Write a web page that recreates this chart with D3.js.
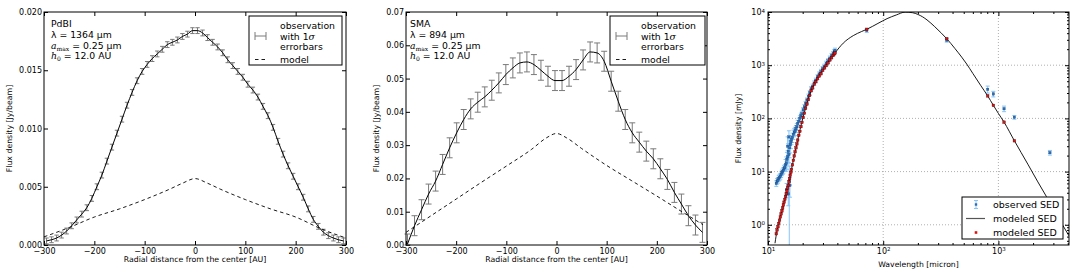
<!DOCTYPE html>
<html>
<head>
<meta charset="utf-8">
<script src="https://cdn.jsdelivr.net/npm/d3@7/dist/d3.min.js"></script>
<style>
  body { margin: 0; background: #fff; }
  text { font-family: "DejaVu Sans", sans-serif; fill: #000; }
</style>
</head>
<body>
<svg id="canvas" width="1080" height="272"></svg>
<script>
// PdBI profile
let pdbiRadius = d3.range(-295, 300, 10)
let pdbiFlux = [
  0.00035, 0.00045, 0.0006, 0.00085, 0.0012, 0.00165, 0.00215, 0.00265, 0.0032, 0.0040,
  0.0050, 0.0060, 0.0072, 0.0084, 0.0096, 0.0108, 0.0120, 0.0131, 0.0141, 0.0149,
  0.0155, 0.0160, 0.0164, 0.0168, 0.0172, 0.0174, 0.0176, 0.0179, 0.0181, 0.0184,
  0.0184, 0.0182, 0.0178, 0.0174, 0.0170, 0.0165, 0.0159, 0.0154, 0.0149, 0.0144,
  0.0138, 0.0133, 0.0127, 0.0119, 0.0111, 0.0101, 0.0089, 0.0078, 0.0068, 0.0059,
  0.0050, 0.0041, 0.0031, 0.0022, 0.0016, 0.0011, 0.0008, 0.0006, 0.00045, 0.00035
]
let pdbiSigma = 0.00025
let pdbiModelRadius = [-300, -250, -200, -150, -100, -50, -25, 0, 25, 50, 100, 150, 200, 250, 300]
let pdbiModelFlux = [0.0007, 0.0015, 0.0024, 0.0031, 0.0039, 0.0048, 0.0053, 0.0057, 0.0053, 0.0048, 0.0039, 0.0031, 0.0024, 0.0014, 0.0006]

// SMA profile
let smaRadius = [
  -297, -283, -269, -255, -241, -227, -213, -199, -185, -171, -157, -143, -129, -115, -101,
  -87, -73, -59, -45, -31, -17, -3, 11, 25, 39, 53, 67, 81, 95, 109,
  123, 137, 151, 165, 179, 193, 207, 221, 235, 249, 263, 277, 291
]
let smaFlux = [
  0.0003, 0.0058, 0.0106, 0.0153, 0.0192, 0.0242, 0.0292, 0.0337, 0.0377, 0.0409,
  0.0429, 0.0445, 0.0465, 0.0487, 0.0512, 0.0532, 0.0547, 0.0550, 0.0542, 0.0525,
  0.0507, 0.0494, 0.0494, 0.0507, 0.0527, 0.0556, 0.0580, 0.0577, 0.0552, 0.0492,
  0.0432, 0.0377, 0.0337, 0.0309, 0.0282, 0.0259, 0.0229, 0.0197, 0.0158, 0.0123,
  0.0088, 0.0060, 0.0038
]
let smaSigma = 0.003
let smaModelRadius = [-300, -250, -200, -150, -100, -50, -20, 0, 20, 50, 100, 150, 200, 250, 292]
let smaModelFlux = [0.0038, 0.0088, 0.0138, 0.0188, 0.0237, 0.0287, 0.0322, 0.0335, 0.0322, 0.0290, 0.0239, 0.0193, 0.0147, 0.0100, 0.0061]

// SED: IRS spectrum
let irsLambda = [
  11.8, 12.0, 12.2, 12.4, 12.6, 12.8, 13.0, 13.2, 13.4, 13.6, 13.8, 14.0,
  14.2, 14.4, 14.6, 14.8, 15.0, 15.2, 15.4, 15.6, 15.8, 16.0,
  16.3, 16.6, 16.9, 17.2, 17.5, 17.8, 18.1, 18.5, 18.9, 19.3, 19.7,
  20.2, 20.7, 21.2, 21.8, 22.4, 23.0, 23.7, 24.4, 25.2, 26.0, 26.9, 27.8, 28.8, 29.8, 30.9, 32.0, 33.2, 34.4, 35.6, 36.8, 37.6, 38.2
]
let irsObsFlux = [
  6.0, 6.6, 6.9, 7.5, 7.8, 8.2, 8.8, 9.5, 10.0, 10.6, 11.5, 12.0,
  13.5, 14.5, 17, 19, 24, 21, 28, 32, 36, 40,
  44, 50, 55, 58, 64, 70, 80, 88, 100, 112, 122,
  145, 165, 190, 220, 260, 300, 360, 400, 460, 520, 600, 680, 760, 860, 950, 1080, 1200, 1350, 1500, 1650, 1800, 1900
]
let irsObsErr = [
  0.12, 0.12, 0.12, 0.12, 0.12, 0.12, 0.12, 0.12, 0.12, 0.12, 0.12, 0.12,
  0.25, 0.3, 0.35, 0.3, 0.4, 0.3, 0.35, 0.3, 0.25, 0.2,
  0.2, 0.2, 0.18, 0.18, 0.15, 0.15, 0.15, 0.15, 0.12, 0.12, 0.12,
  0.1, 0.1, 0.1, 0.1, 0.1, 0.1, 0.1, 0.1, 0.1, 0.1, 0.1, 0.1, 0.1, 0.1, 0.1, 0.1, 0.1, 0.1, 0.1, 0.1, 0.1, 0.1
]
let irsModelFlux = [
  0.68, 0.8, 0.92, 1.06, 1.22, 1.40, 1.6, 1.82, 2.07, 2.35, 2.65, 3.0,
  3.4, 3.85, 4.3, 4.9, 5.5, 6.4, 7.4, 8.5, 9.7, 11,
  13.4, 16.3, 19.7, 23.6, 28, 33, 39, 48, 57, 70, 84,
  104, 125, 155, 185, 225, 270, 330, 375, 440, 490, 555, 620, 690, 800, 880, 980, 1100, 1250, 1380, 1520, 1620, 1700
]
let irsExtraLambda = [14.5, 14.8, 15.0, 15.2, 15.3, 15.5]
let irsExtraFlux = [4.6, 30, 3.8, 45, 6.5, 5.5]
let irsExtraErr = [0.3, 0.5, 0.4, 0.3, 0.95, 0.4]

// SED: photometry
let photLambda = [72, 356, 807, 904, 1120, 1376, 2800]
let photFlux = [4500, 2950, 352, 288, 152, 105, 22.7]
let photErr = [0.08, 0.08, 0.15, 0.12, 0.12, 0.08, 0.1]
let photModelLambda = [72, 356, 807, 904, 1120, 1376]
let photModelFlux = [4730, 3150, 265, 176, 85, 38]

// SED: model curve
let sedLambda = [11.5, 12, 13, 14, 15, 16, 17, 18, 19, 20, 21, 22, 23.5, 25, 27, 30, 34, 38, 45, 55,
  65, 72, 90, 108, 130, 155, 180, 200, 220, 240, 280, 320, 356, 420, 480, 531, 600, 700, 807, 904,
  1000, 1120, 1376, 1800, 2200, 2610, 3200, 4100]
let sedFlux = [0.45, 0.8, 1.6, 3.0, 5.5, 11, 21, 37, 62, 98, 145, 205, 320, 430, 580, 820, 1220, 1680, 2600, 3600,
  4300, 4730, 6100, 7500, 8800, 9950, 9700, 9000, 8100, 7100, 5300, 4000, 3150, 2050, 1420, 1050, 700, 420, 265, 176,
  124, 85, 38, 13.8, 6.4, 3.4, 1.55, 0.62]

let svg = d3.select('#canvas')
let plotTop = 12
let plotBottom = 245

let frameAxes = (g, x, y, xTicks, yTicks, fmtX, fmtY, size, padY) => {
  let [x0, x1] = x.range()
  g.append('g').attr('class', 'ax').attr('transform', `translate(0,${plotBottom})`)
    .call(d3.axisBottom(x).tickValues(xTicks).tickSizeInner(-size).tickSizeOuter(0).tickPadding(3).tickFormat(fmtX))
  g.append('g').attr('class', 'ax').attr('transform', `translate(0,${plotTop})`)
    .call(d3.axisTop(x).tickValues(xTicks).tickSizeInner(-size).tickSizeOuter(0).tickFormat(''))
  g.append('g').attr('class', 'ax').attr('transform', `translate(${x0},0)`)
    .call(d3.axisLeft(y).tickValues(yTicks).tickSizeInner(-size).tickSizeOuter(0).tickPadding(padY).tickFormat(fmtY))
  g.append('g').attr('class', 'ax').attr('transform', `translate(${x1},0)`)
    .call(d3.axisRight(y).tickValues(yTicks).tickSizeInner(-size).tickSizeOuter(0).tickFormat(''))
  g.selectAll('.domain').remove()
  g.selectAll('.ax').attr('font-size', 8).attr('font-family', null)
}

let drawProfile = (cfg) => {
  let x = d3.scaleLinear().domain([-300, 300]).range([cfg.left, cfg.right])
  let y = d3.scaleLinear().domain([0, cfg.yMax]).range([plotBottom, plotTop])
  let g = svg.append('g')

  frameAxes(g, x, y, d3.range(-300, 301, 100), cfg.yTicks, d3.format('d'), d3.format(cfg.yFmt), 4, 2)

  let pts = cfg.radius.map((r, i) => ({ r: r, v: cfg.flux[i] }))
  let bars = g.append('g').attr('stroke', '#7a7a7a').attr('stroke-width', 1)
  pts.forEach(p => {
    let yl = y(Math.max(p.v - cfg.sigma, 0)), yh = y(p.v + cfg.sigma), xc = x(p.r)
    bars.append('line').attr('x1', xc).attr('x2', xc).attr('y1', yl).attr('y2', yh)
    bars.append('line').attr('x1', xc - cfg.cap).attr('x2', xc + cfg.cap).attr('y1', yl).attr('y2', yl)
    bars.append('line').attr('x1', xc - cfg.cap).attr('x2', xc + cfg.cap).attr('y1', yh).attr('y2', yh)
  })

  let line = d3.line().x(d => x(d.r)).y(d => y(d.v)).curve(d3.curveMonotoneX)
  g.append('path').datum(pts).attr('d', line).attr('fill', 'none').attr('stroke', '#000').attr('stroke-width', 1)

  let model = cfg.modelRadius.map((r, i) => ({ r: r, v: cfg.modelFlux[i] }))
  g.append('path').datum(model).attr('d', line).attr('fill', 'none')
    .attr('stroke', '#000').attr('stroke-width', 0.9).attr('stroke-dasharray', '3.5,3')

  g.append('rect').attr('x', cfg.left).attr('y', plotTop).attr('width', cfg.right - cfg.left).attr('height', plotBottom - plotTop)
    .attr('fill', 'none').attr('stroke', '#000').attr('stroke-width', 1)

  // info text
  let tx = cfg.left + cfg.textDx
  g.append('text').attr('x', tx).attr('y', 27).attr('font-size', 9.3).text(cfg.name)
  g.append('text').attr('x', tx).attr('y', 37.5).attr('font-size', 9.3).text('λ = ' + cfg.lambda + ' µm')
  let a = g.append('text').attr('x', tx).attr('y', 48.5).attr('font-size', 9.3)
  a.append('tspan').attr('font-family', 'DejaVu Serif').attr('font-style', 'italic').text('a')
  a.append('tspan').attr('font-family', 'DejaVu Serif').attr('font-size', 6).attr('dy', 2).text('max')
  a.append('tspan').attr('dy', -2).text(' = 0.25 µm')
  let h = g.append('text').attr('x', tx).attr('y', 59).attr('font-size', 9.3)
  h.append('tspan').attr('font-family', 'DejaVu Serif').attr('font-style', 'italic').text('h')
  h.append('tspan').attr('font-family', 'DejaVu Serif').attr('font-size', 6).attr('dy', 2).text('0')
  h.append('tspan').attr('dy', -2).text(' = 12.0 AU')

  // legend
  let lg = g.append('g')
  lg.append('rect').attr('x', cfg.legX).attr('y', 16).attr('width', cfg.legW).attr('height', 49)
    .attr('fill', '#fff').attr('stroke', '#000').attr('stroke-width', 1)
  let sx = cfg.legX + 6
  lg.append('line').attr('x1', sx).attr('x2', sx + 11).attr('y1', 36).attr('y2', 36).attr('stroke', '#7a7a7a')
  lg.append('line').attr('x1', sx).attr('x2', sx).attr('y1', 32).attr('y2', 40).attr('stroke', '#7a7a7a')
  lg.append('line').attr('x1', sx + 11).attr('x2', sx + 11).attr('y1', 32).attr('y2', 40).attr('stroke', '#7a7a7a')
  lg.append('line').attr('x1', sx).attr('x2', sx + 12).attr('y1', 59.5).attr('y2', 59.5)
    .attr('stroke', '#000').attr('stroke-width', 0.9).attr('stroke-dasharray', '3.5,3')
  let ltx = cfg.legX + 31
  lg.append('text').attr('x', ltx).attr('y', 28.5).attr('font-size', 9.3).text('observation')
  let w = lg.append('text').attr('x', ltx).attr('y', 39.5).attr('font-size', 9.3)
  w.append('tspan').text('with 1')
  w.append('tspan').attr('font-family', 'DejaVu Serif').attr('font-style', 'italic').text('σ')
  lg.append('text').attr('x', ltx).attr('y', 50.3).attr('font-size', 9.3).text('errorbars')
  lg.append('text').attr('x', ltx).attr('y', 62.8).attr('font-size', 9.3).text('model')

  // axis titles
  g.append('text').attr('x', (cfg.left + cfg.right) / 2).attr('y', 262).attr('text-anchor', 'middle')
    .attr('font-size', 7.8).text('Radial distance from the center [AU]')
  g.append('text').attr('transform', `translate(${cfg.ylabX},${(plotTop + plotBottom) / 2}) rotate(-90)`)
    .attr('text-anchor', 'middle').attr('font-size', 7.8).text('Flux density [Jy/beam]')
}

drawProfile({
  left: 44, right: 346, yMax: 0.02, yTicks: [0, 0.005, 0.01, 0.015, 0.02], yFmt: '.3f',
  radius: pdbiRadius, flux: pdbiFlux, sigma: pdbiSigma, cap: 2.2,
  modelRadius: pdbiModelRadius, modelFlux: pdbiModelFlux,
  name: 'PdBI', lambda: '1364', textDx: 7, legX: 249, legW: 93, ylabX: 12
})

drawProfile({
  left: 406, right: 707, yMax: 0.07, yTicks: [0, 0.01, 0.02, 0.03, 0.04, 0.05, 0.06, 0.07], yFmt: '.2f',
  radius: smaRadius, flux: smaFlux, sigma: smaSigma, cap: 3,
  modelRadius: smaModelRadius, modelFlux: smaModelFlux,
  name: 'SMA', lambda: '894', textDx: 4, legX: 610, legW: 95, ylabX: 379
})

// SED panel
let drawSed = () => {
  let left = 768, right = 1069
  let x = d3.scaleLog().domain([10, 4100]).range([left, right])
  let y = d3.scaleLog().domain([0.417, 1e4]).range([plotBottom, plotTop])
  let g = svg.append('g')

  g.append('clipPath').attr('id', 'sedclip').append('rect')
    .attr('x', left).attr('y', plotTop).attr('width', right - left).attr('height', plotBottom - plotTop)

  let grid = g.append('g').attr('stroke', '#9a9a9a').attr('stroke-width', 0.8).attr('stroke-dasharray', '1,2')
  ;[100, 1000].forEach(v => grid.append('line').attr('x1', x(v)).attr('x2', x(v)).attr('y1', plotTop).attr('y2', plotBottom))
  ;[1, 10, 100, 1000].forEach(v => grid.append('line').attr('x1', left).attr('x2', right).attr('y1', y(v)).attr('y2', y(v)))

  let xMinor = d3.range(20, 100, 10).concat(d3.range(200, 1000, 100), [2000, 3000, 4000])
  let yMinor = [0.5, 0.6, 0.7, 0.8, 0.9].concat(d3.range(2, 10), d3.range(20, 100, 10), d3.range(200, 1000, 100), d3.range(2000, 10000, 1000))
  frameAxes(g, x, y, xMinor, yMinor, () => '', () => '', 2, 3)
  let sup = v => '10'
  frameAxes(g, x, y, [10, 100, 1000], [1, 10, 100, 1000, 10000], sup, sup, 4, 3)
  g.selectAll('.tick text').filter(function () { return d3.select(this).text() === '10' }).each(function (d) {
    let t = d3.select(this)
    t.append('tspan').attr('font-size', 5.5).attr('dy', '-0.45em').text(Math.round(Math.log10(d)))
  })

  let data = g.append('g').attr('clip-path', 'url(#sedclip)')
  let obs = irsLambda.map((l, i) => ({ l: l, f: irsObsFlux[i], e: irsObsErr[i] }))
    .concat(irsExtraLambda.map((l, i) => ({ l: l, f: irsExtraFlux[i], e: irsExtraErr[i] })))
    .concat(photLambda.map((l, i) => ({ l: l, f: photFlux[i], e: photErr[i] })))

  let eb = data.append('g').attr('stroke', '#86c5f7').attr('stroke-width', 1)
  obs.forEach(p => {
    let xc = x(p.l), yh = y(p.f * (1 + p.e)), yl = y(Math.max(p.f * (1 - p.e), 0.01))
    eb.append('line').attr('x1', xc).attr('x2', xc).attr('y1', yl).attr('y2', yh)
    eb.append('line').attr('x1', xc - 2).attr('x2', xc + 2).attr('y1', yl).attr('y2', yl)
    eb.append('line').attr('x1', xc - 2).attr('x2', xc + 2).attr('y1', yh).attr('y2', yh)
  })
  data.append('g').selectAll('rect').data(obs).enter().append('rect')
    .attr('x', d => x(d.l) - 1.2).attr('y', d => y(d.f) - 1.2).attr('width', 2.4).attr('height', 2.4)
    .attr('fill', '#2a6cb5').attr('stroke', '#173f6e').attr('stroke-width', 0.3)

  let model = sedLambda.map((l, i) => ({ l: l, f: sedFlux[i] }))
  let line = d3.line().x(d => x(d.l)).y(d => y(d.f)).curve(d3.curveMonotoneX)
  data.append('path').datum(model).attr('d', line).attr('fill', 'none').attr('stroke', '#000').attr('stroke-width', 0.9)

  let red = irsLambda.map((l, i) => ({ l: l, f: irsModelFlux[i] }))
    .concat(photModelLambda.map((l, i) => ({ l: l, f: photModelFlux[i] })))
  data.append('g').selectAll('rect').data(red).enter().append('rect')
    .attr('x', d => x(d.l) - 1.3).attr('y', d => y(d.f) - 1.3).attr('width', 2.6).attr('height', 2.6)
    .attr('fill', '#d81212').attr('stroke', '#3a0000').attr('stroke-width', 0.35)

  g.append('rect').attr('x', left).attr('y', plotTop).attr('width', right - left).attr('height', plotBottom - plotTop)
    .attr('fill', 'none').attr('stroke', '#000').attr('stroke-width', 1)

  // legend
  let lg = g.append('g')
  lg.append('rect').attr('x', 962).attr('y', 197).attr('width', 101).attr('height', 42)
    .attr('fill', '#fff').attr('stroke', '#000').attr('stroke-width', 1)
  lg.append('line').attr('x1', 976).attr('x2', 976).attr('y1', 200.5).attr('y2', 208.5).attr('stroke', '#86c5f7')
  lg.append('line').attr('x1', 974).attr('x2', 978).attr('y1', 200.5).attr('y2', 200.5).attr('stroke', '#86c5f7')
  lg.append('line').attr('x1', 974).attr('x2', 978).attr('y1', 208.5).attr('y2', 208.5).attr('stroke', '#86c5f7')
  lg.append('rect').attr('x', 974.8).attr('y', 203.3).attr('width', 2.4).attr('height', 2.4).attr('fill', '#2a6cb5')
  lg.append('line').attr('x1', 966).attr('x2', 985).attr('y1', 218.5).attr('y2', 218.5).attr('stroke', '#555').attr('stroke-width', 1.2)
  lg.append('rect').attr('x', 974.7).attr('y', 231.2).attr('width', 2.6).attr('height', 2.6).attr('fill', '#d81212')
  ;['observed SED', 'modeled SED', 'modeled SED'].forEach((s, i) => {
    lg.append('text').attr('x', 993).attr('y', 208.3 + i * 13.8).attr('font-size', 9.5).text(s)
  })

  g.append('text').attr('x', (left + right) / 2).attr('y', 267).attr('text-anchor', 'middle')
    .attr('font-size', 7.7).text('Wavelength [micron]')
  g.append('text').attr('transform', `translate(741,${(plotTop + plotBottom) / 2}) rotate(-90)`)
    .attr('text-anchor', 'middle').attr('font-size', 7.7).text('Flux density [mJy]')
}

drawSed()
</script>
</body>
</html>
